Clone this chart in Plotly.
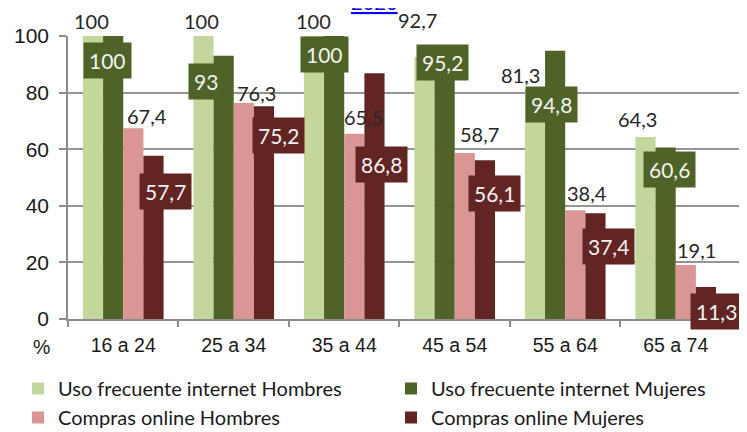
import plotly.graph_objects as go

# ---------------- data ----------------
categories = ["16 a 24", "25 a 34", "35 a 44", "45 a 54", "55 a 64", "65 a 74"]
uso_hombres = [100, 100, 100, 92.7, 81.3, 64.3]
uso_mujeres = [100, 93, 100, 95.2, 94.8, 60.6]
compras_hombres = [67.4, 76.3, 65.5, 58.7, 38.4, 19.1]
compras_mujeres = [57.7, 75.2, 86.8, 56.1, 37.4, 11.3]
series_names = ["Uso frecuente internet Hombres", "Uso frecuente internet Mujeres",
                "Compras online Hombres", "Compras online Mujeres"]
y_tick_values = [0, 20, 40, 60, 80, 100]

# ---------------- styles ----------------
colors = ["#C3D69B", "#4F6228", "#D99694", "#632523"]
boxed = [False, True, False, True]
legend_of = ["legend", "legend2", "legend", "legend2"]
# label nudges in pixels (x right, y up) relative to bar centre / bar top
label_dx = [[-1, -1, 0, -6, -14, -7],
            [-5, -17, -9, -2, -3, 4],
            [13, 12, 9, 15, 12, 11],
            [11, 14, 6, 9, 12, 10]]
label_dy = [[15, 15, 15, 37, 14, 18],
            [-24, -26, -18, -13, -54, -22],
            [12, 10, 17, 19, 17, 15],
            [-36, -29, -91, -33, -33, -24]]

# the page body adds an 8px offset; the figure is sized to fit the window
OX, OY = 8, 8
W, H = 747 - OX, 432 - OY
ML, MR, MT, MB = 68 - OX, 4, 36 - OY, 113
BARGAP = 0.27
plot_w = W - ML - MR
plot_h = H - MT - MB
slot_px = plot_w / len(categories)
bar_px = slot_px * (1 - BARGAP) / 4

all_series = [uso_hombres, uso_mujeres, compras_hombres, compras_mujeres]

def fmt(v):
    return ("%g" % v).replace(".", ",")

fig = go.Figure()
for name, vals, col, lg in zip(series_names, all_series, colors, legend_of):
    fig.add_trace(go.Bar(x=categories, y=vals, name=name, legend=lg,
                         marker=dict(color=col, line=dict(width=0))))

annotations = []
for si, vals in enumerate(all_series):
    for ci, v in enumerate(vals):
        xs = (si - 1.5) * bar_px + label_dx[si][ci]
        if boxed[si]:
            annotations.append(dict(
                x=categories[ci], y=v, xref="x", yref="y", text=fmt(v), showarrow=False,
                xanchor="center", yanchor="middle", xshift=xs, yshift=label_dy[si][ci],
                bgcolor=colors[si], borderpad=5,
                font=dict(family="Lato", size=21, color="#F2F2F2")))
        else:
            annotations.append(dict(
                x=categories[ci], y=v, xref="x", yref="y", text=fmt(v), showarrow=False,
                xanchor="center", yanchor="middle", xshift=xs, yshift=label_dy[si][ci],
                font=dict(family="Lato", size=20, color="#262626")))

# percent sign under the y axis labels
annotations.append(dict(x=(41 - 68) / plot_w, y=-28 / plot_h, xref="paper", yref="paper",
                        text="%", showarrow=False, xanchor="center", yanchor="middle",
                        font=dict(family="Liberation Sans, Arial", size=19.5, color="#1A1A1A")))
# cut-off title at the very top
annotations.append(dict(x=(374 - 68) / plot_w, y=1, xref="paper", yref="paper",
                        text="<u>2020</u>", showarrow=False, xanchor="center", yanchor="bottom",
                        yshift=20, font=dict(family="Liberation Sans, Arial", size=21, color="#0000FF")))

legend_style = dict(orientation="v", xanchor="left", yanchor="top", y=-50 / plot_h,
                    font=dict(family="Lato", size=20, color="#1A1A1A"),
                    bgcolor="rgba(0,0,0,0)", traceorder="normal", tracegroupgap=0)

fig.update_layout(
    width=W, height=H,
    margin=dict(l=ML, r=MR, t=MT, b=MB, pad=0, autoexpand=False),
    paper_bgcolor="white", plot_bgcolor="white",
    barmode="group", bargap=BARGAP, bargroupgap=0,
    showlegend=True,
    legend=dict(x=(18 - 68) / plot_w, **legend_style),
    legend2=dict(x=(391 - 68) / plot_w, **legend_style),
    annotations=annotations,
    font=dict(family="Liberation Sans, Arial", color="#1A1A1A"),
)
fig.update_yaxes(range=[0, 100], tickvals=y_tick_values, showgrid=True, gridcolor="#959595", gridwidth=1.5,
                 showline=True, linecolor="#8C8C8C", linewidth=1.5, ticks="outside", ticklen=7,
                 tickcolor="#8C8C8C", tickwidth=1.5, ticklabelstandoff=6,
                 tickfont=dict(family="Liberation Sans, Arial", size=21, color="#1A1A1A"), zeroline=False,
                 fixedrange=True)
fig.update_xaxes(showline=True, linecolor="#8C8C8C", linewidth=1.5, ticks="outside", ticklen=6,
                 tickson="boundaries", tickcolor="#8C8C8C", tickwidth=1.5, ticklabelstandoff=8,
                 tickfont=dict(family="Liberation Sans, Arial", size=19.5, color="#1A1A1A"))

fig.write_html("out.html")
